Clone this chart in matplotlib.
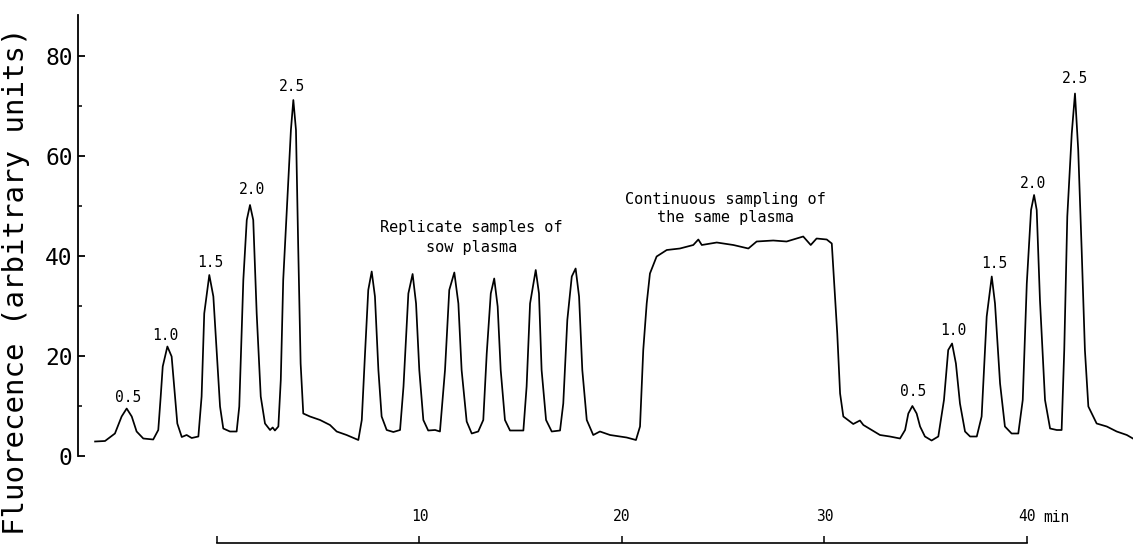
"""
Fluorescence trace: calibration standards, replicate sow plasma samples,
continuous sampling, then the standards again.
"""

import matplotlib
matplotlib.use("Agg")
import matplotlib.pyplot as plt
from matplotlib.ticker import FixedLocator

plt.rcParams["font.family"] = ["DejaVu Sans Mono", "DejaVu Sans"]

# -----------------------------------------------------------------
# Trace (time in min, fluorescence)
# -----------------------------------------------------------------
standards_1_t = [-6.02, -5.53, -5.04, -4.71, -4.46, -4.21, -3.97, -3.64, -3.15,
                 -2.90, -2.78, -2.68, -2.45, -2.24, -2.07, -1.96, -1.74, -1.50,
                 -1.25, -0.92, -0.76, -0.63, -0.38, -0.18, -0.01, 0.15, 0.31,
                 0.64, 0.97, 1.10, 1.30, 1.47, 1.63, 1.79, 1.96, 2.16, 2.37,
                 2.62, 2.75, 2.86, 3.03, 3.15, 3.27, 3.52, 3.65, 3.77, 3.90,
                 4.01, 4.13, 4.26, 4.59, 5.09]
standards_1_f = [2.9, 3.0, 4.5, 7.9, 9.5, 7.9, 4.9, 3.5, 3.3,
                 5.2, 11.9, 17.9, 21.9, 19.9, 11.9, 6.5, 3.8, 4.2,
                 3.6, 3.9, 11.9, 28.5, 36.2, 31.9, 20.5, 9.9, 5.5,
                 4.9, 4.9, 9.9, 35.2, 47.2, 50.2, 47.2, 28.5, 11.9, 6.5,
                 5.2, 5.7, 5.1, 5.9, 15.2, 35.2, 55.2, 65.2, 71.2, 65.2,
                 41.9, 18.5, 8.5, 7.9, 7.2]

replicates_t = [5.58, 5.91, 6.40, 6.98, 7.15, 7.31, 7.47, 7.64, 7.80, 7.97,
                8.13, 8.38, 8.71, 9.04, 9.21, 9.45, 9.66, 9.83, 9.99, 10.19,
                10.43, 10.77, 11.01, 11.26, 11.47, 11.72, 11.92, 12.08, 12.33,
                12.58, 12.90, 13.15, 13.32, 13.52, 13.69, 13.86, 14.01, 14.22,
                14.47, 14.80, 15.13, 15.29, 15.46, 15.74, 15.90, 16.03, 16.25,
                16.53, 16.94, 17.10, 17.30, 17.52, 17.71, 17.88, 18.04, 18.26,
                18.58, 18.91, 19.41, 19.90]
replicates_f = [6.2, 4.9, 4.2, 3.2, 7.2, 20.5, 33.2, 36.9, 31.9, 17.2,
                7.9, 5.2, 4.8, 5.2, 13.9, 32.5, 36.4, 30.5, 17.2, 7.2,
                5.1, 5.2, 4.9, 17.2, 33.2, 36.7, 30.5, 17.2, 6.9,
                4.5, 4.9, 7.2, 20.5, 32.5, 35.5, 29.9, 17.2, 7.2,
                5.1, 5.1, 5.1, 13.9, 30.5, 37.2, 32.5, 17.2, 7.2,
                4.9, 5.1, 10.5, 27.2, 35.9, 37.5, 31.9, 17.2, 7.2,
                4.2, 4.9, 4.2, 3.9]

continuous_t = [20.23, 20.69, 20.89, 21.05, 21.22, 21.38, 21.71, 22.21, 22.86,
                23.52, 23.77, 23.94, 24.68, 25.50, 26.24, 26.65, 27.47, 28.13,
                28.95, 29.32, 29.61, 30.11, 30.36, 30.43, 30.63, 30.77, 30.93,
                31.42, 31.75, 31.92, 32.33]
continuous_f = [3.7, 3.2, 5.9, 21.2, 30.5, 36.5, 39.9, 41.2, 41.5,
                42.2, 43.3, 42.2, 42.7, 42.2, 41.5, 42.9, 43.1, 42.9,
                43.9, 42.2, 43.5, 43.3, 42.5, 37.9, 24.5, 12.5, 7.9,
                6.4, 7.1, 6.2, 5.2]

standards_2_t = [32.74, 33.23, 33.73, 33.98, 34.14, 34.34, 34.55, 34.72, 34.96,
                 35.29, 35.62, 35.90, 36.11, 36.30, 36.49, 36.69, 36.94, 37.19,
                 37.52, 37.76, 38.01, 38.26, 38.42, 38.67, 38.91, 39.24, 39.57,
                 39.79, 39.99, 40.20, 40.35, 40.48, 40.64, 40.89, 41.14, 41.47,
                 41.71, 41.84, 41.99, 42.21, 42.37, 42.53, 42.70, 42.86, 43.03,
                 43.44, 43.94, 44.43, 44.93, 45.23]
standards_2_f = [4.2, 3.9, 3.5, 5.2, 8.5, 10.0, 8.5, 5.9, 3.9,
                 3.1, 3.9, 11.2, 21.2, 22.5, 18.5, 10.5, 4.9, 3.9,
                 3.9, 7.9, 27.9, 35.9, 30.5, 14.5, 5.9, 4.5, 4.5,
                 11.2, 34.5, 49.2, 52.2, 49.2, 31.2, 11.2, 5.5, 5.2,
                 5.2, 21.2, 47.9, 64.5, 72.5, 61.2, 41.2, 21.2, 9.9,
                 6.5, 5.9, 4.9, 4.2, 3.5]

# standard concentrations written over each calibration peak
std_labels = ["0.5", "1.0", "1.5", "2.0", "2.5"]
std_label_t_1 = [-4.40, -2.57, -0.35, 1.71, 3.69]
std_label_f_1 = [11.6, 24.2, 38.7, 53.3, 73.9]
std_label_t_2 = [34.39, 36.36, 38.39, 40.31, 42.37]
std_label_f_2 = [12.9, 25.2, 38.5, 54.5, 75.5]

y_ticks = [0, 20, 40, 60, 80]
y_minor = [10, 30, 50, 70]
time_ticks = [0, 10, 20, 30, 40]
time_labels = ["", "10", "20", "30", "40"]

# -----------------------------------------------------------------
fig = plt.figure(figsize=(11.33, 5.44), dpi=100)
ax = fig.add_axes([0, 0, 1, 1])
ax.set_facecolor("white")

trace_t = standards_1_t + replicates_t + continuous_t + standards_2_t
trace_f = standards_1_f + replicates_f + continuous_f + standards_2_f
ax.plot(trace_t, trace_f, color="black", lw=1.25, solid_joinstyle="round")

for lab, t, f in zip(std_labels, std_label_t_1, std_label_f_1):
    ax.text(t, f, lab, ha="center", va="center", fontsize=10.5)
for lab, t, f in zip(std_labels, std_label_t_2, std_label_f_2):
    ax.text(t, f, lab, ha="center", va="center", fontsize=10.5)

ax.text(12.55, 43.7, "Replicate samples of\nsow plasma", ha="center",
        va="center", fontsize=11, linespacing=1.35)
ax.text(25.1, 49.6, "Continuous sampling of\nthe same plasma", ha="center",
        va="center", fontsize=11, linespacing=1.25)

ax.set_xlim(-10.716, 45.235)
ax.set_ylim(-17.6, 91.2)

# fluorescence axis
ax.spines["right"].set_visible(False)
ax.spines["bottom"].set_visible(False)
ax.spines["left"].set_position(("data", -6.85))
ax.spines["left"].set_bounds(0, 88.2)
ax.spines["left"].set_linewidth(1.3)
ax.yaxis.set_major_locator(FixedLocator(y_ticks))
ax.yaxis.set_minor_locator(FixedLocator(y_minor))
ax.tick_params(axis="y", which="major", direction="in", length=5, width=1.3,
               pad=4, labelsize=16.5)
ax.tick_params(axis="y", which="minor", direction="in", length=3, width=1.1)

# time scale bar along the bottom
ax.spines["top"].set_position(("data", -17.3))
ax.spines["top"].set_bounds(0, 40)
ax.spines["top"].set_linewidth(1.2)
ax.xaxis.set_ticks_position("top")
ax.set_xticks(time_ticks)
ax.set_xticklabels(time_labels)
ax.tick_params(axis="x", direction="out", length=5, width=1.1, pad=8,
               labelsize=10.5, top=True, bottom=False, labeltop=True,
               labelbottom=False)
ax.text(40.79, -12.2, "min", ha="left", va="center", fontsize=10.5)

fig.text(16 / 1133, 1 - 281 / 544, "Fluorecence (arbitrary units)",
         rotation=90, ha="center", va="center", fontsize=21)

fig.savefig("out.png", dpi=100, facecolor="white")
